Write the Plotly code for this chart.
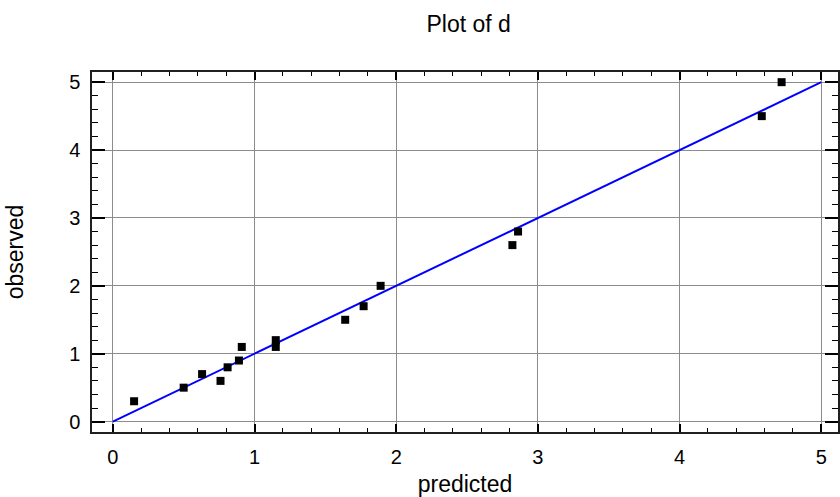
import plotly.graph_objects as go

predicted = [0.15, 0.50, 0.63, 0.76, 0.81, 0.89, 0.91, 1.15, 1.15, 1.64, 1.77, 1.89, 2.82, 2.86, 4.58, 4.72]
observed = [0.3, 0.5, 0.7, 0.6, 0.8, 0.9, 1.1, 1.2, 1.1, 1.5, 1.7, 2.0, 2.6, 2.8, 4.5, 5.0]
line_x = [0, 5]
line_y = [0, 5]
tick_vals = [0, 1, 2, 3, 4, 5]

font = "Liberation Sans, Arial, sans-serif"

fig = go.Figure()
fig.add_trace(go.Scatter(x=line_x, y=line_y, mode="lines",
                         line=dict(color="#0000ff", width=2), showlegend=False))
fig.add_trace(go.Scatter(x=predicted, y=observed, mode="markers",
                         marker=dict(symbol="square", size=8, color="black"),
                         showlegend=False))

def axis(major_len, minor_len):
    return dict(
        showline=True, linecolor="#202020", linewidth=1.5, mirror="allticks",
        ticks="inside", ticklen=major_len, tickwidth=1.5, tickcolor="black",
        showgrid=True, gridcolor="#8c8c8c", gridwidth=1,
        zeroline=False, tickvals=tick_vals, ticklabelstandoff=6,
        tickfont=dict(family=font, size=20, color="black"),
        minor=dict(ticks="inside", ticklen=minor_len, tickwidth=1.2, tickcolor="black",
                   dtick=0.2, showgrid=False),
    )

fig.update_layout(
    width=840, height=497,
    margin=dict(l=92, r=0, t=72, b=64),
    paper_bgcolor="white", plot_bgcolor="white",
    title=dict(text="Plot of d", x=0.558, xanchor="center", xref="container",
               y=1 - 24 / 497, yanchor="middle", yref="container",
               font=dict(family=font, size=23, color="black")),
    xaxis=dict(range=[-0.147, 5.118],
               title=dict(text="predicted", standoff=13,
                          font=dict(family=font, size=23, color="black")),
               **axis(8, 4)),
    yaxis=dict(range=[-0.153, 5.15],
               title=dict(text="observed", standoff=39,
                          font=dict(family=font, size=23, color="black")),
               **axis(13, 6)),
)

fig.write_html("out.html")
